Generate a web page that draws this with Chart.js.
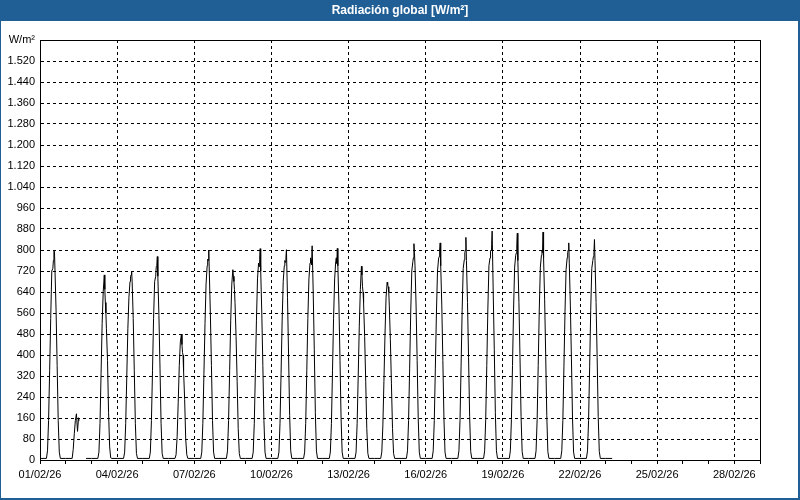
<!DOCTYPE html>
<html>
<head>
<meta charset="utf-8">
<script src="https://cdn.jsdelivr.net/npm/chart.js@4.4.1/dist/chart.umd.min.js"></script>
<style>
html,body{margin:0;padding:0;background:#fff;}
canvas{display:block;}
</style>
</head>
<body>
<canvas id="c" width="800" height="500"></canvas>
<script>
// ---- Data ----
const chartTitle = 'Radiación global [W/m²]';
const xTickLabels = ['01/02/26','04/02/26','07/02/26','10/02/26','13/02/26','16/02/26','19/02/26','22/02/26','25/02/26','28/02/26'];
const yTickLabels = ['0','80','160','240','320','400','480','560','640','720','800','880','960','1.040','1.120','1.200','1.280','1.360','1.440','1.520','W/m²'];
// hour of day for each value in the daily arrays
const hoursOfDay = [0,6,7,8,9,10,11,12,12.5,13,13.5,14,15,16,17,18,19];
// W/m² per day (01/02/26 ... 23/02/26); null = no data
const day01 = [6,6,35,150,340,540,720,730,760,800,795,720,570,360,150,30,6];
const day02 = [6,6,40,100,150,176,109,161,150,null,null,null,null,null,null,null,6];
const day03 = [6,6,30,140,330,520,641,705,650,600,560,500,380,180,50,8,6];
const day04 = [6,6,30,140,320,500,620,680,700,705,720,680,540,340,140,25,6];
const day05 = [6,6,30,150,340,540,680,700,737,740,775,700,550,350,140,25,6];
const day06 = [6,6,20,90,220,360,450,480,440,410,400,340,230,80,20,6,6];
const day07 = [6,6,30,140,330,520,670,740,765,760,800,720,560,360,150,30,6];
const day08 = [6,6,35,150,340,530,670,725,700,680,650,600,470,300,120,25,6];
const day09 = [6,6,30,140,330,530,690,750,737,765,805,720,560,360,150,30,6];
const day10 = [6,6,30,140,330,530,680,740,760,753,770,801,620,400,170,35,6];
const day11 = [6,6,30,140,340,540,690,750,770,760,744,816,640,420,180,35,6];
const day12 = [6,6,30,140,340,540,690,755,770,749,806,740,590,380,160,30,6];
const day13 = [6,6,30,140,320,510,650,738,705,660,640,600,470,300,120,25,6];
const day14 = [6,6,30,130,300,480,620,677,668,660,640,590,460,290,120,25,6];
const day15 = [6,6,35,150,350,560,720,756,770,824,790,740,590,380,160,30,6];
const day16 = [6,6,35,150,350,560,720,766,775,800,827,740,590,380,160,30,6];
const day17 = [6,6,35,150,355,570,730,763,790,800,848,760,600,390,165,32,6];
const day18 = [6,6,35,155,360,575,740,770,796,800,820,872,640,420,180,35,6];
const day19 = [6,6,35,155,360,575,735,780,788,820,864,760,600,390,165,32,6];
const day20 = [6,6,35,155,360,575,735,780,800,790,868,770,610,395,170,32,6];
const day21 = [6,6,35,150,355,565,725,770,790,800,827,750,590,385,160,30,6];
const day22 = [6,6,35,150,355,570,730,760,775,790,840,760,600,390,165,32,6];
const day23 = [6,6,null,null,null,null,null,null,null,null,null,null,null,null,null,null,null];

const days = [day01,day02,day03,day04,day05,day06,day07,day08,day09,day10,day11,day12,day13,day14,day15,day16,day17,day18,day19,day20,day21,day22,day23];
const points = [];
days.forEach((vals, d) => vals.forEach((v, i) => points.push({x: d + hoursOfDay[i] / 24, y: v})));

const BLUE = '#1f5f96';
const FONT = 'Liberation Sans';

const framePlugin = {
  id: 'frame',
  beforeDraw(chart) {
    const ctx = chart.ctx;
    ctx.save();
    ctx.fillStyle = '#ffffff';
    ctx.fillRect(0, 0, chart.width, chart.height);
    ctx.fillStyle = BLUE;
    ctx.fillRect(0, 0, chart.width, 21);
    ctx.fillRect(0, 0, 1, chart.height);
    ctx.fillRect(chart.width - 2, 0, 2, chart.height);
    ctx.fillRect(0, chart.height - 2, chart.width, 2);
    ctx.restore();
  },
  afterDraw(chart) {
    const ctx = chart.ctx;
    const a = chart.chartArea;
    ctx.save();
    ctx.strokeStyle = '#000';
    ctx.lineWidth = 1;
    ctx.setLineDash([]);
    ctx.strokeRect(Math.floor(a.left) + 0.5, Math.floor(a.top) + 0.5, Math.round(a.right - a.left), Math.round(a.bottom - a.top));
    ctx.restore();
  }
};

new Chart(document.getElementById('c'), {
  type: 'line',
  data: {
    datasets: [{
      label: 'Radiación global',
      data: points,
      borderColor: '#000',
      borderWidth: 1,
      pointRadius: 0,
      tension: 0,
      spanGaps: false,
      fill: false
    }]
  },
  options: {
    responsive: false,
    animation: false,
    devicePixelRatio: 1,
    layout: { padding: { left: 0, right: 0, top: 0, bottom: 0 } },
    plugins: {
      legend: { display: false },
      tooltip: { enabled: false },
      title: {
        display: true,
        text: chartTitle,
        color: '#ffffff',
        font: { family: FONT, size: 12, weight: 'bold' },
        padding: { top: 3, bottom: 22.6 }
      }
    },
    scales: {
      x: {
        type: 'linear',
        min: 0,
        max: 28,
        afterFit(s) { s.height = 40; },
        ticks: {
          stepSize: 1,
          autoSkip: false,
          maxRotation: 0,
          minRotation: 0,
          padding: 4,
          color: '#000',
          font: { family: FONT, size: 11 },
          callback: (v) => (v % 3 === 0 ? (xTickLabels[v / 3] || '') : '')
        },
        grid: {
          color: (c) => (c.tick && c.tick.value % 3 === 0 ? '#000' : 'rgba(0,0,0,0)'),
          tickColor: '#000',
          tickLength: 4,
          lineWidth: 1
        },
        border: { display: true, color: '#000', width: 1, dash: [3, 3] }
      },
      y: {
        type: 'linear',
        position: 'left',
        min: 0,
        max: 1600,
        afterFit(s) { s.width = 40; },
        ticks: {
          stepSize: 80,
          autoSkip: false,
          padding: 5,
          color: '#000',
          font: { family: FONT, size: 11 },
          callback: (v) => yTickLabels[Math.round(v / 80)]
        },
        grid: { color: '#000', drawTicks: false, lineWidth: 1 },
        border: { display: true, color: '#000', width: 1, dash: [3, 3] }
      },
      yR: {
        type: 'linear',
        position: 'right',
        display: true,
        afterFit(s) { s.width = 40; },
        ticks: { display: false },
        grid: { display: false },
        border: { display: false }
      }
    }
  },
  plugins: [framePlugin]
});
</script>
</body>
</html>
